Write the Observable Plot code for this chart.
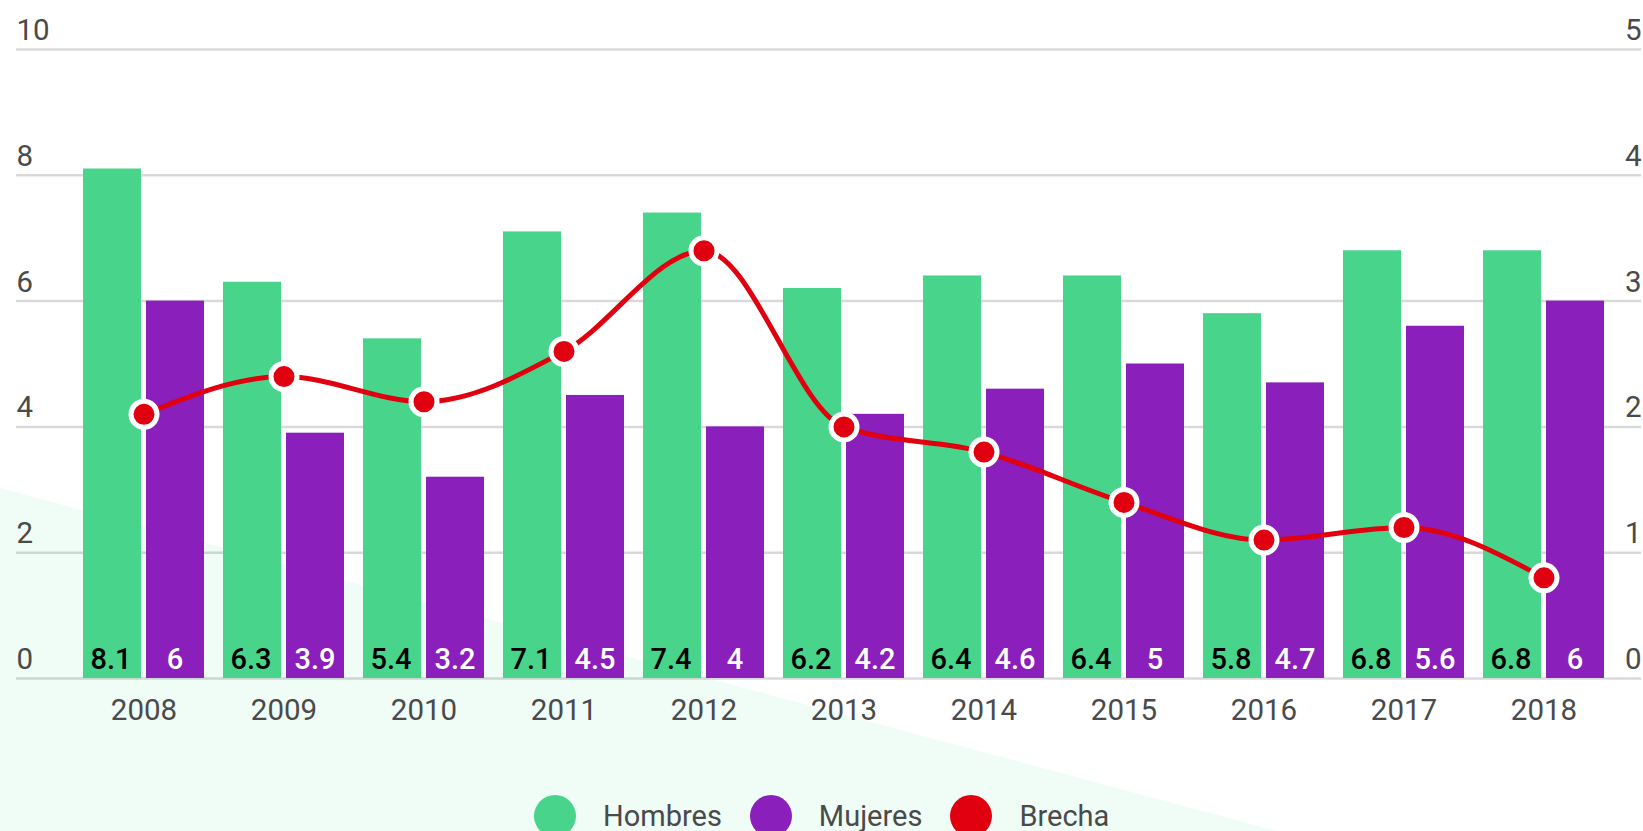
<!DOCTYPE html>
<html>
<head>
<meta charset="utf-8">
<script src="https://cdn.jsdelivr.net/npm/d3@7"></script>
<script src="https://cdn.jsdelivr.net/npm/@observablehq/plot@0.6"></script>
<style>
  html, body { margin:0; padding:0; background:#ffffff; width:1643px; height:831px; overflow:hidden; font-family: Roboto, sans-serif; }
  #bg { position:absolute; left:0; top:0; width:1643px; height:831px; background:#effdf6;
        clip-path: polygon(0 488px, 1277px 831px, 0 831px); }
  #chart { position:absolute; left:0; top:0; }
  #legend { position:absolute; left:534px; top:795px; display:flex; align-items:flex-start; white-space:nowrap; }
  .sw { width:42px; height:42px; border-radius:50%; margin-right:27px; flex:none; }
  .lb { font-size:29px; line-height:29px; color:#4a4a4a; margin-right:28px; margin-top:7px; }
</style>
</head>
<body>
<div id="bg"></div>
<div id="chart"></div>
<div id="legend"></div>
<script>
const years   = ["2008","2009","2010","2011","2012","2013","2014","2015","2016","2017","2018"];
const hombres = [8.1, 6.3, 5.4, 7.1, 7.4, 6.2, 6.4, 6.4, 5.8, 6.8, 6.8];
const mujeres = [6, 3.9, 3.2, 4.5, 4, 4.2, 4.6, 5, 4.7, 5.6, 6];
const brecha  = [2.1, 2.4, 2.2, 2.6, 3.4, 2.0, 1.8, 1.4, 1.1, 1.2, 0.8];
const leftTicks  = [0, 2, 4, 6, 8, 10];
const rightTicks = [0, 1, 2, 3, 4, 5];
const seriesNames  = ["Hombres", "Mujeres", "Brecha"];
const seriesColors = ["#48d48a", "#8a1fbb", "#e1000f"];

const data = years.map((y, i) => ({year: y, hombres: hombres[i], mujeres: mujeres[i], brecha: brecha[i]}));
// right axis (Brecha, 0–5) mapped onto the left axis domain (0–10)
const y2 = d3.scaleLinear().domain([0, 5]).range([0, 10]);
const fmt = v => String(v);
const axisColor = "#4a4a4a";

const chart = Plot.plot({
  width: 1643,
  height: 760,
  marginLeft: 16,
  marginRight: 2,
  marginTop: 49,
  marginBottom: 82,
  style: {background: "transparent", fontFamily: "Roboto, sans-serif"},
  x: {type: "band", domain: years, range: [81, 1606], paddingInner: 0.138, paddingOuter: 0, label: null},
  y: {domain: [0, 10], label: null},
  marks: [
    Plot.ruleY(leftTicks, {stroke: "#000", strokeOpacity: 0.15, strokeWidth: 2.5}),
    Plot.barY(data, {x: "year", y: "hombres", fill: seriesColors[0], insetRight: 63}),
    Plot.barY(data, {x: "year", y: "mujeres", fill: seriesColors[1], insetLeft: 63}),
    Plot.text(data, {x: "year", frameAnchor: "bottom", text: d => fmt(d.hombres), dx: -33, dy: -10,
      lineAnchor: "bottom", fill: "#000", fontSize: 29, fontWeight: 500}),
    Plot.text(data, {x: "year", frameAnchor: "bottom", text: d => fmt(d.mujeres), dx: 31, dy: -10,
      lineAnchor: "bottom", fill: "#fff", fontSize: 29, fontWeight: 500}),
    Plot.axisX({tickSize: 0, tickPadding: 21, fontSize: 29.5, color: axisColor, label: null}),
    Plot.axisY(leftTicks, {anchor: "left", tickSize: 0, tickPadding: 0, textAnchor: "start", dy: -19,
      fontSize: 29.5, color: axisColor, label: null, tickFormat: d => String(d)}),
    Plot.axisY(rightTicks.map(t => y2(t)), {anchor: "right", tickSize: 0, tickPadding: 0, textAnchor: "end", dy: -19,
      fontSize: 29.5, color: axisColor, label: null, tickFormat: d => String(y2.invert(d))}),
    Plot.line(data, {x: "year", y: d => y2(d.brecha), curve: "monotone-x", stroke: seriesColors[2], strokeWidth: 5}),
    Plot.dot(data, {x: "year", y: d => y2(d.brecha), r: 13, fill: seriesColors[2], stroke: "#fff", strokeWidth: 5})
  ]
});
document.getElementById("chart").appendChild(chart);

const legend = document.getElementById("legend");
seriesNames.forEach((name, i) => {
  const sw = document.createElement("div");
  sw.className = "sw";
  sw.style.background = seriesColors[i];
  const lb = document.createElement("div");
  lb.className = "lb";
  lb.textContent = name;
  legend.appendChild(sw);
  legend.appendChild(lb);
});
</script>
</body>
</html>
